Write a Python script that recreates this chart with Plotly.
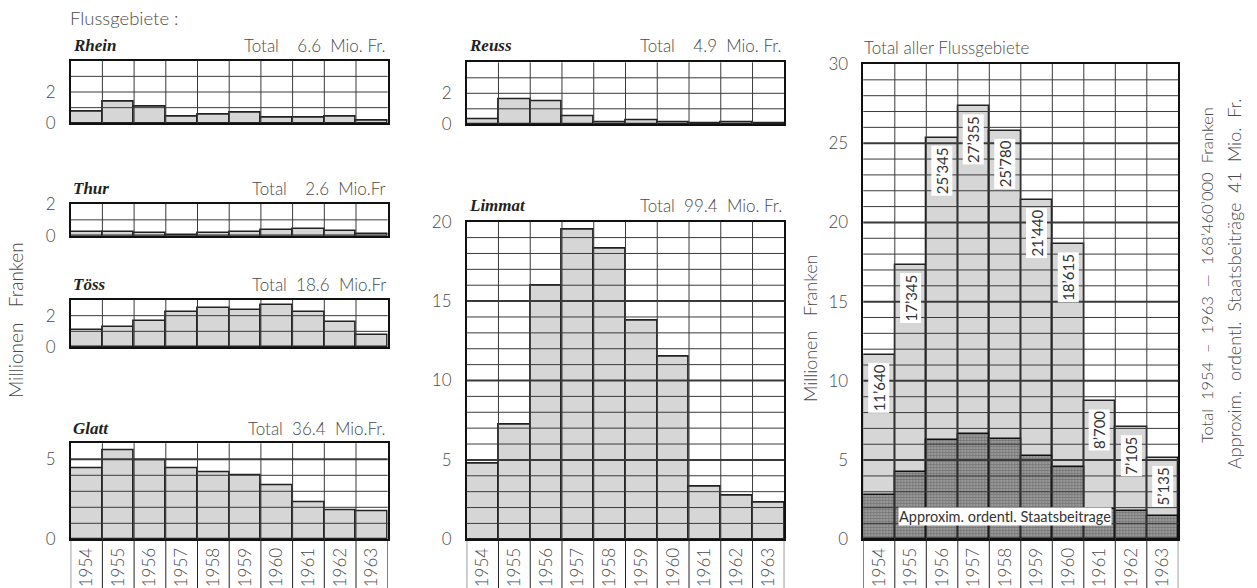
import plotly.graph_objects as go

# ---------------- data (Mio. Fr.) ----------------
years = [1954, 1955, 1956, 1957, 1958, 1959, 1960, 1961, 1962, 1963]
rhein = [0.73, 1.38, 1.04, 0.44, 0.58, 0.69, 0.39, 0.33, 0.41, 0.16]
reuss = [0.34, 1.63, 1.50, 0.54, 0.15, 0.23, 0.12, 0.08, 0.10, 0.05]
thur = [0.22, 0.22, 0.16, 0.05, 0.20, 0.25, 0.38, 0.45, 0.27, 0.12]
toess = [1.07, 1.28, 1.66, 2.23, 2.49, 2.38, 2.70, 2.23, 1.62, 0.74]
glatt = [4.41, 5.58, 4.96, 4.41, 4.16, 4.00, 3.39, 2.29, 1.83, 1.75]
limmat = [4.74, 7.24, 16.00, 19.48, 18.28, 13.79, 11.50, 3.34, 2.73, 2.31]
total_k = [11640, 17345, 25345, 27355, 25780, 21440, 18615, 8700, 7105, 5135]
staats = [2.80, 4.27, 6.27, 6.67, 6.35, 5.26, 4.56, 1.90, 1.80, 1.47]

W, H = 1257, 588
def px(x):
    return x / W
def py(y):
    return 1 - y / H

S = "\u00a0"  # non-breaking space keeps the wide letter-spacing of the original
def sp(text, n=2):
    return text.replace(" ", S * n)

FONT = "Lato"
FW = 300
GREY_TXT = "#4a4a4a"
GRID = "#3a3a3a"
BAR_FILL = "#d6d6d6"

# panel: (name, total text, values, x0, x1, ytop, ybase, ymax, ticks, major5, show_years, title_y)
panels = [
    ("Rhein", "Total" + S * 4 + "6.6" + S * 2 + "Mio." + S + "Fr.", rhein, 70.7, 387.7, 60.7, 123.3, 4, [0, 2], False, False, 45),
    ("Thur", "Total" + S * 4 + "2.6" + S * 2 + "Mio.Fr", thur, 70.7, 387.7, 204.0, 235.7, 2, [0, 2], False, False, 189),
    ("Töss", "Total" + S * 2 + "18.6" + S * 2 + "Mio.Fr", toess, 70.7, 387.7, 300.0, 347.0, 3, [0, 2], False, False, 285),
    ("Glatt", "Total" + S * 2 + "36.4" + S * 2 + "Mio.Fr.", glatt, 70.7, 387.7, 443.3, 539.3, 6, [0, 5], True, True, 428),
    ("Reuss", "Total" + S * 4 + "4.9" + S * 2 + "Mio." + S + "Fr.", reuss, 466.7, 784.3, 62.3, 124.3, 4, [0, 2], False, False, 46),
    ("Limmat", "Total" + S * 2 + "99.4" + S * 2 + "Mio." + S + "Fr.", limmat, 466.7, 784.3, 221.7, 539.3, 20, [0, 5, 10, 15, 20], True, True, 205),
    ("", "", None, 863.3, 1178.3, 64.0, 539.3, 30, [0, 5, 10, 15, 20, 25, 30], True, True, 47),
]

fig = go.Figure()
annotations = []
shapes = []
xr = [years[0] - 0.5, years[-1] + 0.5]

for i, (name, tot, vals, x0, x1, yt, yb, ymax, ticks, major5, show_years, ty) in enumerate(panels, start=1):
    xa = "x" if i == 1 else f"x{i}"
    ya = "y" if i == 1 else f"y{i}"
    xkey = "xaxis" if i == 1 else f"xaxis{i}"
    ykey = "yaxis" if i == 1 else f"yaxis{i}"

    fig.layout[xkey] = dict(
        domain=[px(x0), px(x1)], anchor=ya, range=xr, automargin=False,
        tickmode="array", tickvals=years, ticktext=[str(y) for y in years],
        showticklabels=show_years, tickangle=-90, ticks="",
        tickfont=dict(family=FONT, size=17, color=GREY_TXT, weight=FW),
        showgrid=False, zeroline=False,
        showline=True, mirror=True, linecolor="#111", linewidth=1.5,
        fixedrange=True,
    )
    fig.layout[ykey] = dict(
        domain=[py(yb), py(yt)], anchor=xa, range=[0, ymax], automargin=False,
        tickmode="array", tickvals=ticks, ticktext=[str(t) for t in ticks],
        tickfont=dict(family=FONT, size=17, color=GREY_TXT, weight=FW),
        ticks="", ticklabelstandoff=10,
        showgrid=False, zeroline=False,
        showline=True, mirror=True, linecolor="#111", linewidth=1.5,
        fixedrange=True,
    )

    if vals is not None:
        fig.add_trace(go.Bar(
            x=years, y=vals, width=1, xaxis=xa, yaxis=ya,
            marker=dict(color=BAR_FILL, line=dict(color="#222", width=1.6)),
            showlegend=False, hoverinfo="x+y",
        ))
        annotations.append(dict(
            x=px(x0), y=py(ty), xref="paper", yref="paper", xanchor="left", yanchor="middle",
            text=f"<b><i>{name}</i></b>", showarrow=False,
            font=dict(family="Liberation Serif", size=17, color="#222"),
        ))
        annotations.append(dict(
            x=px(x1), y=py(ty), xref="paper", yref="paper", xanchor="right", yanchor="middle",
            text=tot, showarrow=False,
            font=dict(family=FONT, size=17, color=GREY_TXT, weight=FW),
        ))
    else:
        tot_vals = [v / 1000 for v in total_k]
        fig.add_trace(go.Bar(
            x=years, y=tot_vals, width=1, xaxis=xa, yaxis=ya,
            marker=dict(color=BAR_FILL, line=dict(color="#222", width=1.6)),
            showlegend=False, hoverinfo="x+y",
        ))
        fig.add_trace(go.Bar(
            x=years, y=staats, width=1, xaxis=xa, yaxis=ya,
            marker=dict(color="#999999", line=dict(color="#111", width=1.6),
                        pattern=dict(shape="+", size=3, fgcolor="#4a4a4a", solidity=0.4)),
            showlegend=False, hoverinfo="x+y",
        ))

    # grid lines drawn above the bars (as in the printed original)
    for k in range(1, ymax):
        thick = major5 and k % 5 == 0
        shapes.append(dict(
            type="line", xref=f"{xa} domain", yref=ya, x0=0, x1=1, y0=k, y1=k,
            line=dict(color=GRID, width=2 if thick else 1), layer="above",
        ))
    for k in range(1, len(years)):
        shapes.append(dict(
            type="line", xref=xa, yref=f"{ya} domain", x0=xr[0] + k, x1=xr[0] + k, y0=0, y1=1,
            line=dict(color=GRID, width=1), layer="above",
        ))

    if vals is None:
        for yr, v in zip(years, total_k):
            annotations.append(dict(
                x=yr, y=v / 1000 - 0.5, xref=xa, yref=ya, xanchor="center", yanchor="top",
                text=f"{v // 1000}’{v % 1000:03d}", textangle=-90, showarrow=False,
                bgcolor="white", borderpad=1,
                font=dict(family=FONT, size=15, color="#333", weight=400),
            ))
        annotations.append(dict(
            x=years[4], y=1.44, xref=xa, yref=ya,
            xanchor="center", yanchor="middle",
            text="Approxim. ordentl. Staatsbeitrage", showarrow=False,
            bgcolor="white", borderpad=0,
            font=dict(family=FONT, size=14.5, color="#333", weight=400),
        ))
        annotations.append(dict(
            x=px(x0 - 1), y=py(ty), xref="paper", yref="paper", xanchor="left", yanchor="middle",
            text=sp("Total aller Flussgebiete", 1), showarrow=False,
            font=dict(family=FONT, size=17, color=GREY_TXT, weight=FW),
        ))

    if show_years:
        for k in range(len(years) + 1):
            shapes.append(dict(
                type="line", xref=xa, yref="paper",
                x0=xr[0] + k, x1=xr[0] + k, y0=0, y1=py(yb),
                line=dict(color="#222", width=1),
            ))

annotations += [
    dict(x=px(68), y=py(18), xref="paper", yref="paper", xanchor="left", yanchor="middle",
         text="Flussgebiete" + S + ":", showarrow=False,
         font=dict(family=FONT, size=18.5, color=GREY_TXT, weight=FW)),
    dict(x=px(15), y=py(320), xref="paper", yref="paper", xanchor="center", yanchor="middle",
         text="Millionen" + S * 3 + "Franken", textangle=-90, showarrow=False,
         font=dict(family=FONT, size=19, color=GREY_TXT, weight=FW)),
    dict(x=px(810), y=py(328), xref="paper", yref="paper", xanchor="center", yanchor="middle",
         text="Millionen" + S * 3 + "Franken", textangle=-90, showarrow=False,
         font=dict(family=FONT, size=18, color=GREY_TXT, weight=FW)),
    dict(x=px(1207), y=py(275), xref="paper", yref="paper", xanchor="center", yanchor="middle",
         text=sp("Total 1954 – 1963 — 168’460’000 Franken", 2), textangle=-90, showarrow=False,
         font=dict(family=FONT, size=16.5, color=GREY_TXT, weight=FW)),
    dict(x=px(1234), y=py(284), xref="paper", yref="paper", xanchor="center", yanchor="middle",
         text=sp("Approxim. ordentl. Staatsbeiträge 41 Mio. Fr.", 2), textangle=-90, showarrow=False,
         font=dict(family=FONT, size=18, color=GREY_TXT, weight=FW)),
]

fig.update_layout(
    width=W, height=H, margin=dict(l=0, r=0, t=0, b=0, autoexpand=False),
    paper_bgcolor="white", plot_bgcolor="white",
    barmode="overlay", bargap=0,
    annotations=annotations, shapes=shapes,
    showlegend=False,
)

fig.write_html("out.html", config={"displayModeBar": False},
               post_script="document.body.style.margin='0px';")
